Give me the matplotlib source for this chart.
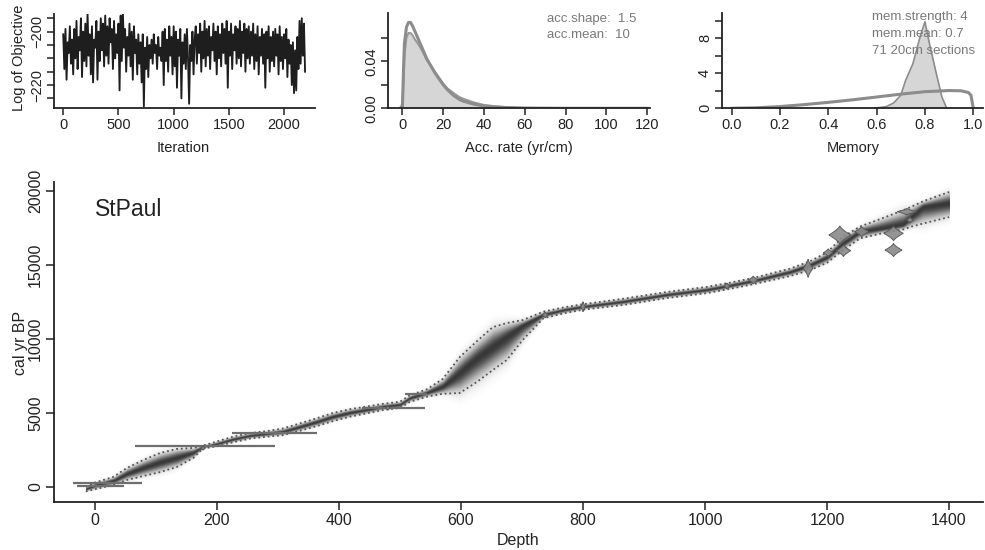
import numpy as np
import matplotlib
matplotlib.use("Agg")
import matplotlib.pyplot as plt

plt.rcParams['font.family'] = ['Liberation Sans', 'DejaVu Sans']

# ---------------- data ----------------
# MCMC trace (log of objective), one value per 10 iterations
trace_vals = [
    -201, -214, -199, -218, -204, -208, -198, -212, -203, -216,
    -199, -210, -196, -214, -202, -207, -195, -217, -200, -211,
    -197, -213, -193, -209, -201, -216, -198, -219, -203, -206,
    -196, -218, -200, -211, -195, -207, -197, -213, -194, -209,
    -198, -212, -195, -204, -199, -214, -196, -210, -201, -208,
    -197, -222, -194, -211, -193, -206, -199, -215, -202, -209,
    -197, -213, -200, -218, -198, -208, -203, -216, -201, -212,
    -204, -219, -201, -228, -206, -214, -202, -217, -205, -210,
    -203, -212, -201, -208, -205, -214, -202, -209, -206, -211,
    -200, -220, -199, -211, -203, -215, -198, -209, -202, -216,
    -198, -213, -200, -221, -203, -209, -199, -225, -204, -212,
    -201, -214, -199, -210, -227, -205, -211, -200, -216, -203,
    -198, -212, -201, -208, -197, -215, -200, -210, -196, -213,
    -199, -209, -198, -214, -202, -207, -197, -211, -200, -216,
    -198, -210, -201, -213, -197, -208, -199, -212, -196, -221,
    -200, -209, -197, -214, -201, -207, -198, -212, -199, -210,
    -196, -213, -200, -208, -197, -215, -199, -210, -198, -212,
    -200, -209, -197, -214, -201, -211, -198, -216, -202, -209,
    -199, -212, -201, -221, -200, -210, -198, -215, -202, -211,
    -200, -213, -199, -209, -201, -216, -198, -211, -202, -214,
    -201, -210, -199, -217, -203, -212, -205, -220, -204, -223,
    -207, -222, -202, -214, -196, -212, -195, -209, -197, -215,
]
trace_step = 10

# accumulation rate: prior and posterior densities
acc_x = [-1, 0, 0.5, 1, 2, 3, 4, 5, 6, 8, 10, 12, 14, 16, 18, 20, 22, 25, 28, 30,
         35, 40, 45, 50, 55, 60, 70, 80, 100, 120]
acc_prior = [0, 0, 0.030, 0.055, 0.069, 0.073, 0.073, 0.070, 0.066, 0.058, 0.050,
             0.042, 0.036, 0.030, 0.025, 0.020, 0.016, 0.011, 0.0075, 0.0060,
             0.0035, 0.0020, 0.0012, 0.0007, 0.0004, 0.0002, 0.0001, 0, 0, 0]
acc_post = [0, 0.004, 0.020, 0.045, 0.060, 0.064, 0.064, 0.062, 0.059, 0.054, 0.048,
            0.041, 0.036, 0.031, 0.026, 0.021, 0.017, 0.013, 0.0095, 0.0080,
            0.0050, 0.0028, 0.0018, 0.0011, 0.0006, 0.0003, 0.0001, 0, 0, 0]

# memory: prior and posterior
mem_x_prior = [0, 0.1, 0.2, 0.3, 0.4, 0.5, 0.6, 0.7, 0.8, 0.9, 0.95, 0.98, 0.99, 1.0]
mem_prior = [0, 0.06, 0.20, 0.42, 0.68, 0.97, 1.29, 1.62, 1.90, 2.03, 2.0, 1.8, 1.5, 0]
mem_x_post = [0.59, 0.64, 0.67, 0.70, 0.72, 0.75, 0.78, 0.80, 0.82, 0.85, 0.87, 0.89]
mem_post = [0, 0.2, 0.6, 1.5, 3.2, 5.1, 8.2, 9.9, 7.2, 3.6, 1.3, 0]

# age-depth model: depth, median, 95% min, 95% max
model_depth = [-15, 0, 30, 52, 79, 107, 134, 161, 177, 200, 226, 254, 282, 308, 336,
               364, 390, 418, 446, 472, 500, 516, 544, 570, 598, 626, 652, 675, 701,
               735, 770, 800, 866, 938, 1003, 1040, 1079, 1139, 1172, 1200, 1226,
               1254, 1292, 1325, 1339, 1357, 1400]
model_med = [-150, 100, 400, 875, 1280, 1650, 1960, 2300, 2710, 2900, 3200, 3450, 3580,
             3720, 4050, 4390, 4730, 5000, 5200, 5400, 5540, 6000, 6350, 6760, 7700,
             8700, 9450, 10150, 10900, 11620, 11950, 12160, 12500, 12970, 13300,
             13580, 13900, 14500, 14970, 15500, 16440, 17240, 17450, 17700, 18240,
             18920, 19150]
model_min = [-300, -150, 135, 470, 740, 1010, 1350, 1960, 2600, 2750, 3020, 3270, 3400,
             3500, 3800, 4120, 4450, 4750, 4980, 5200, 5350, 5750, 6100, 6300, 6350,
             7100, 7900, 8580, 9930, 11400, 11750, 11980, 12300, 12770, 13100, 13380,
             13700, 14250, 14650, 15150, 16000, 16800, 17160, 17400, 17600, 17800,
             18240]
model_max = [0, 300, 680, 1280, 1820, 2300, 2570, 2640, 2800, 3080, 3400, 3640, 3780,
             3950, 4300, 4650, 5000, 5260, 5440, 5620, 5760, 6200, 6600, 7300, 8780,
             9850, 10800, 11080, 11280, 11850, 12150, 12350, 12720, 13180, 13520,
             13800, 14120, 14750, 15250, 15850, 16900, 17600, 18180, 18700, 18950,
             19300, 19930]

# dates with large depth range (drawn as horizontal bars): depth from, depth to, age
bar_d0 = [-36, -30, 66, 224, 437, 508]
bar_d1 = [77, 48, 295, 364, 541, 544]
bar_age = [290, 70, 2790, 3650, 5320, 6260]

# calibrated dates: depth, age, half age-spread, half depth-width
date_depth = [177, 480, 738, 800, 1036, 1079, 1169, 1202, 1221, 1227, 1257, 1309, 1309, 1331, 1336]
date_age = [2630, 5340, 11620, 12180, 13580, 13990, 14780, 15830, 17030, 15970, 17250, 17140, 16010, 18600, 18040]
date_hh = [150, 150, 200, 340, 200, 270, 620, 270, 620, 400, 340, 510, 450, 225, 200]
date_hw = [4, 4, 5, 4, 5, 8, 8, 8, 18, 12, 12, 16, 14, 16, 6]

# ---------------- figure ----------------
W, H = 985, 550
fig = plt.figure(figsize=(W / 100, H / 100), dpi=100)


def box(l, t, r, b):
    return [l / W, 1 - b / H, (r - l) / W, (b - t) / H]


def px(x, y):
    return x / W, 1 - y / H


axc = '#222222'
greyc = '#7a7a7a'


def style(ax, fs):
    for s in ['top', 'right']:
        ax.spines[s].set_visible(False)
    for s in ['left', 'bottom']:
        ax.spines[s].set_color(axc)
        ax.spines[s].set_linewidth(1.3)
    ax.tick_params(direction='out', length=5, width=1.1, color=axc,
                   labelsize=fs, labelcolor=axc, pad=2)


# --- trace ---
ax1 = fig.add_axes(box(54.3, 14, 315, 108.3))
it = np.arange(len(trace_vals)) * trace_step
ax1.plot(it, trace_vals, color='#1e1e1e', lw=1.35)
ax1.set_xlim(-81, 2280)
ax1.set_ylim(-228.7, -193.4)
ax1.set_xticks([0, 500, 1000, 1500, 2000])
ax1.set_yticks([-195, -200, -205, -210, -215, -220, -225])
ax1.set_yticklabels(['', '\u2212200', '', '', '', '\u2212220', ''], rotation=90, va='center')
style(ax1, 10.5)
fig.text(*px(183, 148), 'Iteration', ha='center', va='center', fontsize=10.5, color=axc)
fig.text(*px(19, 58), 'Log of Objective', ha='center', va='center', fontsize=10.5,
         color=axc, rotation=90)

# --- accumulation rate ---
ax2 = fig.add_axes(box(388.3, 13, 650, 108.3))
ax2.fill_between(acc_x, acc_post, 0, color='#d6d6d6', lw=0)
ax2.plot(acc_x, acc_post, color='#9a9a9a', lw=1.5)
ax2.plot(acc_x, acc_prior, color='#8c8c8c', lw=2.2)
ax2.set_xlim(-6.9, 121.4)
ax2.set_ylim(0, 0.081)
ax2.set_xticks([0, 20, 40, 60, 80, 100, 120])
ax2.set_yticks([0, 0.02, 0.04, 0.06])
ax2.set_yticklabels(['0.00', '', '0.04', ''], rotation=90, va='center')
style(ax2, 10.5)
fig.text(*px(519, 148), 'Acc. rate (yr/cm)', ha='center', va='center', fontsize=10.5, color=axc)
fig.text(*px(547, 19), 'acc.shape:  1.5', ha='left', va='center', fontsize=9.5, color=greyc)
fig.text(*px(547, 35), 'acc.mean:  10', ha='left', va='center', fontsize=9.5, color=greyc)

# --- memory ---
ax3 = fig.add_axes(box(721.7, 13, 983, 108.3))
ax3.fill_between(mem_x_post, mem_post, 0, color='#d6d6d6', lw=0)
ax3.plot(mem_x_post, mem_post, color='#8c8c8c', lw=1.2)
ax3.plot(mem_x_prior, mem_prior, color='#8c8c8c', lw=2.2)
ax3.set_xlim(-0.041, 1.04)
ax3.set_ylim(0, 10.9)
ax3.set_xticks([0, 0.2, 0.4, 0.6, 0.8, 1.0])
ax3.set_xticklabels(['0.0', '0.2', '0.4', '0.6', '0.8', '1.0'])
ax3.set_yticks([0, 2, 4, 6, 8, 10])
ax3.set_yticklabels(['0', '', '4', '', '8', ''], rotation=90, va='center')
style(ax3, 10.5)
fig.text(*px(853, 148), 'Memory', ha='center', va='center', fontsize=10.5, color=axc)
fig.text(*px(872, 17), 'mem.strength: 4', ha='left', va='center', fontsize=9.5, color=greyc)
fig.text(*px(872, 34), 'mem.mean: 0.7', ha='left', va='center', fontsize=9.5, color=greyc)
fig.text(*px(872, 51), '71 20cm sections', ha='left', va='center', fontsize=9.5, color=greyc)

# --- age-depth model ---
ax = fig.add_axes(box(54.3, 182, 983, 502))
dgrid = np.linspace(model_depth[0], model_depth[-1], 900)
agrid = np.linspace(-1000, 20600, 1400)
med = np.interp(dgrid, model_depth, model_med)
lo = np.interp(dgrid, model_depth, model_min)
hi = np.interp(dgrid, model_depth, model_max)
A = agrid[:, None]
s_up = np.maximum((hi - med) / 2.0, 30)[None, :]
s_dn = np.maximum((med - lo) / 2.0, 30)[None, :]
z = np.where(A > med[None, :], (A - med[None, :]) / s_up, (A - med[None, :]) / s_dn)
dens = np.exp(-0.5 * z ** 2)
rgba = np.zeros((len(agrid), len(dgrid), 4))
rgba[..., 0:3] = 0.16
rgba[..., 3] = 0.93 * dens ** 0.9
ax.imshow(rgba, extent=[dgrid[0], dgrid[-1], agrid[0], agrid[-1]], origin='lower',
          aspect='auto', interpolation='bilinear', zorder=1)
ax.plot(model_depth, model_min, color='#555555', lw=1.3, ls=(0, (1, 1.6)), zorder=2)
ax.plot(model_depth, model_max, color='#555555', lw=1.3, ls=(0, (1, 1.6)), zorder=2)

for d0, d1, a in zip(bar_d0, bar_d1, bar_age):
    ax.plot([d0, d1], [a, a], color='#6e6e6e', lw=1.6, zorder=3, solid_capstyle='butt')

t = np.linspace(-1, 1, 61)
for d, a, hh, hw in zip(date_depth, date_age, date_hh, date_hw):
    w = hw * (1 - np.abs(t)) ** 1.4
    xs = np.concatenate([d - w, (d + w)[::-1]])
    ys = np.concatenate([a + t * hh, (a + t * hh)[::-1]])
    ax.fill(xs, ys, facecolor='#8a8a8a', edgecolor='#555555', lw=0.7, alpha=0.9, zorder=4)

ax.set_xlim(-66.7, 1455.7)
ax.set_ylim(-1014, 20610)
ax.set_xticks([0, 200, 400, 600, 800, 1000, 1200, 1400])
ax.set_yticks([0, 5000, 10000, 15000, 20000])
ax.set_yticklabels(['0', '5000', '10000', '15000', '20000'], rotation=90, va='center')
style(ax, 11.5)
ax.tick_params(length=6)
fig.text(*px(518, 540), 'Depth', ha='center', va='center', fontsize=11.5, color=axc)
fig.text(*px(20, 343), 'cal yr BP', ha='center', va='center', fontsize=11.5, color=axc,
         rotation=90)
fig.text(*px(95, 210), 'StPaul', ha='left', va='center', fontsize=16.5, color=axc)

fig.savefig('out.png', dpi=100)
